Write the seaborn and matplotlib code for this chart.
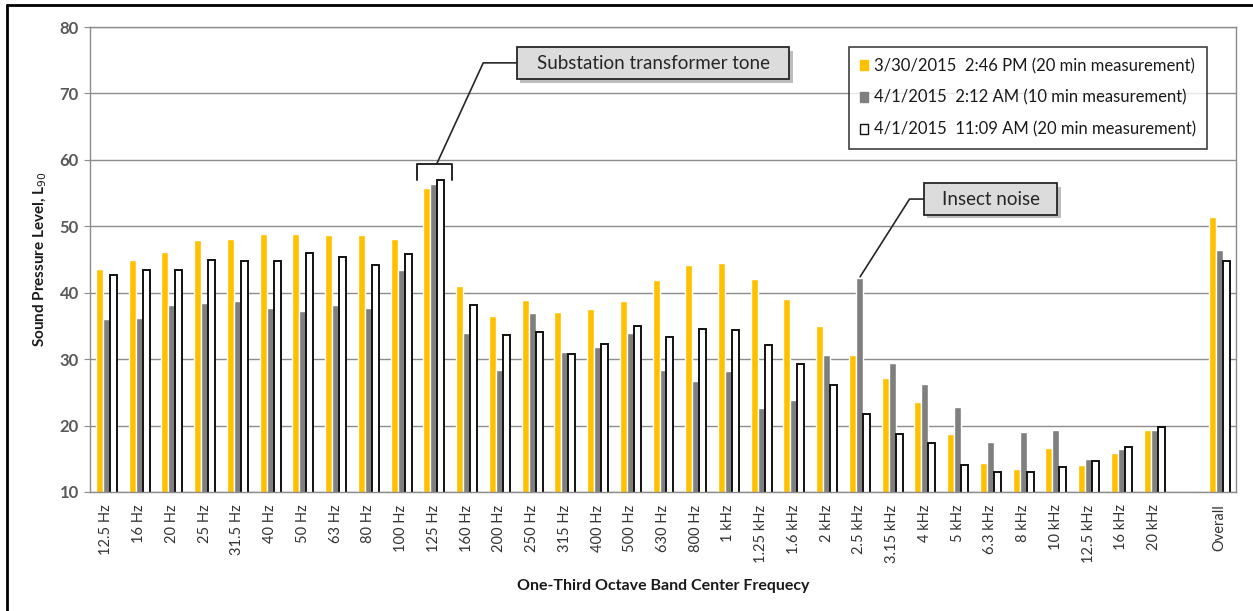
import matplotlib
matplotlib.use("Agg")
import matplotlib.pyplot as plt
import matplotlib.patheffects as pe
from matplotlib.patches import Patch, Rectangle
from matplotlib.lines import Line2D
import numpy as np
import pandas as pd
import seaborn as sns

# one-third octave bands (plus an empty slot before the overall level)
bands = ["12.5 Hz", "16 Hz", "20 Hz", "25 Hz", "31.5 Hz", "40 Hz", "50 Hz", "63 Hz",
         "80 Hz", "100 Hz", "125 Hz", "160 Hz", "200 Hz", "250 Hz", "315 Hz", "400 Hz",
         "500 Hz", "630 Hz", "800 Hz", "1 kHz", "1.25 kHz", "1.6 kHz", "2 kHz", "2.5 kHz",
         "3.15 kHz", "4 kHz", "5 kHz", "6.3 kHz", "8 kHz", "10 kHz", "12.5 kHz", "16 kHz",
         "20 kHz", " ", "Overall"]

series = ["3/30/2015  2:46 PM (20 min measurement)",
          "4/1/2015  2:12 AM (10 min measurement)",
          "4/1/2015  11:09 AM (20 min measurement)"]

mar30_pm = [43.6, 44.9, 46.2, 47.9, 48.1, 48.9, 48.9, 48.7, 48.7, 48.1, 55.7,
            41.0, 36.5, 38.9, 37.1, 37.5, 38.8, 41.9, 44.2, 44.5, 42.0, 39.0,
            35.0, 30.6, 27.2, 23.5, 18.7, 14.4, 13.4, 16.6, 14.1, 15.8, 19.4,
            None, 51.4]
apr1_am = [36.0, 36.2, 38.1, 38.5, 38.7, 37.7, 37.3, 38.1, 37.7, 43.4, 56.3,
           34.0, 28.4, 37.0, 31.1, 31.8, 33.9, 28.4, 26.7, 28.2, 22.7, 23.9,
           30.6, 42.2, 29.4, 26.3, 22.8, 17.6, 19.0, 19.3, 14.9, 16.4, 19.4,
           None, 46.5]
apr1_late = [42.6, 43.4, 43.4, 44.9, 44.7, 44.7, 46.0, 45.4, 44.1, 45.9, 56.9,
             38.1, 33.6, 34.1, 30.8, 32.3, 35.0, 33.3, 34.5, 34.4, 32.1, 29.2,
             26.1, 21.7, 18.8, 17.4, 14.1, 13.0, 13.0, 13.7, 14.7, 16.8, 19.8,
             None, 44.7]

colors = ["#FFC000", "#7F7F7F", "#FFFFFF"]

rows = []
for name, vals in zip(series, [mar30_pm, apr1_am, apr1_late]):
    for b, v in zip(bands, vals):
        if v is not None:
            rows.append({"band": b, "level": v, "series": name})
df = pd.DataFrame(rows)

sns.set_style("white")
plt.rcParams["font.family"] = ["Lato", "DejaVu Sans"]

W, H = 1253, 611
fig = plt.figure(figsize=(W / 100, H / 100), dpi=100)
ax = fig.add_axes([90 / W, 1 - 492 / H, (1236 - 90) / W, (492 - 27) / H])

sns.barplot(data=df, x="band", y="level", hue="series", order=bands,
            hue_order=series, palette=colors, saturation=1, width=0.64,
            errorbar=None, legend=False, ax=ax)
for bar in ax.containers[2]:
    bar.set_edgecolor("#111111")
    bar.set_linewidth(1.4)

grid_c = "#8C8C8C"
ax.set_ylim(10, 80)
ax.set_xlim(-0.5, len(bands) - 0.5)
ax.set_yticks(range(10, 81, 10))
ax.yaxis.grid(True, color=grid_c, linewidth=1)
ax.set_axisbelow(True)
for s in ax.spines.values():
    s.set_color(grid_c)
    s.set_linewidth(1)

ax.set_xticks(range(len(bands)))
ax.set_xticklabels(bands, rotation=90, fontsize=10.5, color="#333333")
ax.set_xticks(np.arange(-0.5, len(bands), 1), minor=True)
ax.tick_params(axis="x", which="major", length=0, pad=9)
ax.tick_params(axis="x", which="minor", length=4, color=grid_c, direction="out")
ax.tick_params(axis="y", length=4, color=grid_c, pad=4, direction="out", left=True)
for t in ax.get_yticklabels():
    t.set_fontsize(12)
    t.set_fontweight("bold")
    t.set_color("#595959")

ax.set_xlabel("One-Third Octave Band Center Frequecy", fontsize=11.5,
              fontweight="bold", color="#1a1a1a", labelpad=12)
ax.set_ylabel("Sound Pressure Level, L$_{90}$", fontsize=11,
              fontweight="bold", color="#1a1a1a", labelpad=8)

# legend
handles = [Patch(facecolor=c, edgecolor=("#111111" if i == 2 else c), linewidth=1)
           for i, c in enumerate(colors)]
leg = fig.legend(handles, series, loc="upper left",
                 bbox_to_anchor=(849 / W, 1 - 47 / H), fontsize=12,
                 frameon=True, fancybox=False, edgecolor="#111111",
                 handlelength=0.5, handleheight=0.5, handletextpad=0.35,
                 labelspacing=0.95, borderpad=0.65, borderaxespad=0)
leg.get_frame().set_linewidth(1.2)
for t in leg.get_texts():
    t.set_color("#1a1a1a")

# callouts
shadow = [pe.SimplePatchShadow(offset=(2.5, -2.5), alpha=0.35), pe.Normal()]


def callout(x0, x1, y0, y1, text):
    r = Rectangle((x0, y0), x1 - x0, y1 - y0, facecolor="#DCDCDC",
                  edgecolor="#262626", linewidth=1.3, zorder=6, clip_on=False)
    r.set_path_effects(shadow)
    ax.add_patch(r)
    ax.text((x0 + x1) / 2, (y0 + y1) / 2, text, fontsize=13.5, color="#262626",
            ha="center", va="center", zorder=7)


callout(12.53, 20.86, 72.13, 76.94, "Substation transformer tone")
ax.plot([12.53, 11.51, 10.09], [74.6, 74.6, 59.4], color="#262626", lw=1.2,
        zorder=5, clip_on=False)
ax.plot([9.48, 9.48, 10.57, 10.57], [56.97, 59.37, 59.37, 56.97],
        color="#262626", lw=1.4, zorder=5, clip_on=False)

callout(24.97, 29.04, 51.70, 56.47, "Insect noise")
ax.plot([24.97, 24.53, 23.02], [54.1, 54.1, 42.4], color="#262626", lw=1.2,
        zorder=5, clip_on=False)

# outer frame (left and top edges visible)
fig.add_artist(Line2D([7 / W, 7 / W], [0, 1 - 5 / H], color="black", lw=2,
                      transform=fig.transFigure))
fig.add_artist(Line2D([7 / W, 1], [1 - 5 / H, 1 - 5 / H], color="black", lw=2,
                      transform=fig.transFigure))

fig.savefig("out.png", dpi=100, facecolor="white")
